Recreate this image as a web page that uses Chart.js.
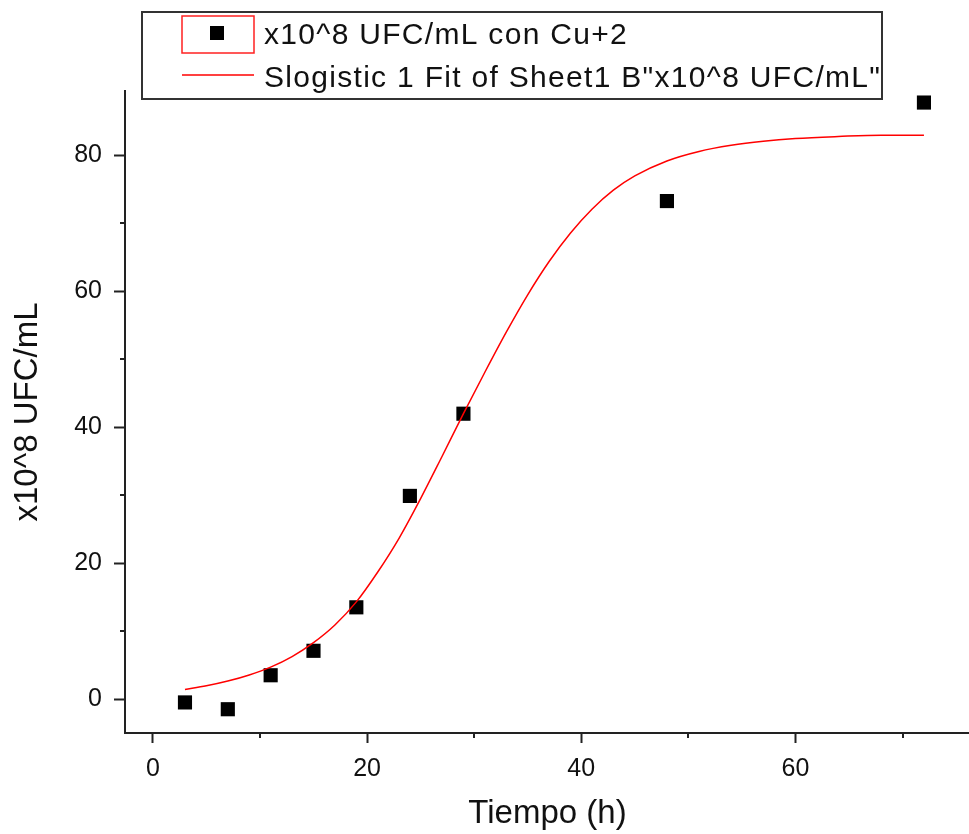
<!DOCTYPE html>
<html>
<head>
<meta charset="utf-8">
<script src="https://cdn.jsdelivr.net/npm/chart.js@4"></script>
<style>
  html, body { margin: 0; padding: 0; background: #fff; overflow: hidden; }
  #wrap { width: 969px; height: 834px; overflow: hidden; }
  #c { display: block; }
</style>
</head>
<body>
<div id="wrap"><canvas id="c" width="980" height="834"></canvas></div>
<script>
// Measured cell counts (x10^8 UFC/mL) against time (h)
const tiempo = [3, 7, 11, 15, 19, 24, 29, 48, 72];
const ufc = [-0.5, -1.5, 3.5, 7.1, 13.5, 29.9, 42.0, 73.3, 87.8];

// Sigmoidal (Slogistic1) fit curve, sampled along time
const fitTiempo = [3, 5, 7, 9, 11, 13, 15, 17, 19, 21, 23, 25, 27, 29, 31, 33, 35, 37, 39, 41, 43, 45, 48, 51, 54, 57, 60, 64, 68, 72];
const fitUfc = [1.4, 1.95, 2.65, 3.55, 4.7, 6.25, 8.3, 10.9, 14.3, 18.7, 23.7, 29.5, 35.7, 42.0, 48.1, 54.0, 59.5, 64.4, 68.6, 72.1, 74.9, 77.0, 79.2, 80.6, 81.5, 82.1, 82.5, 82.8, 83.0, 83.0];

// Axis ticks: major ticks are labelled, minor ticks are short marks only
const xMajorTicks = [0, 20, 40, 60];
const xMinorTicks = [10, 30, 50, 70];
const yMajorTicks = [0, 20, 40, 60, 80];
const yMinorTicks = [10, 30, 50, 70];

const serieLabel = 'x10^8 UFC/mL con Cu+2';
const fitLabel = 'Slogistic 1 Fit of Sheet1 B"x10^8 UFC/mL"';
const xTitle = 'Tiempo (h)';
const yTitle = 'x10^8 UFC/mL';

const FONT = "'Liberation Sans', Arial, sans-serif";
const AXIS_COLOR = '#222';
const TEXT_COLOR = '#111';

const scatterPoints = tiempo.map((t, i) => ({ x: t, y: ufc[i] }));
const fitPoints = fitTiempo.map((t, i) => ({ x: t, y: fitUfc[i] }));

function isMajor(list, v) { return list.indexOf(v) !== -1; }

// Axis boxes keep a fixed size with no extra label overhang padding
function fixBox(s, size) {
  if (s.isHorizontal()) s.height = size; else s.width = size;
  s.paddingLeft = 0;
  s.paddingRight = 0;
  s.paddingTop = 0;
  s.paddingBottom = 0;
}

// Short minor tick marks drawn outward from the axis lines
const minorTicks = {
  id: 'minorTicks',
  afterDraw(chart) {
    const ctx = chart.ctx;
    const xs = chart.scales.x, ys = chart.scales.y;
    const area = chart.chartArea;
    ctx.save();
    ctx.strokeStyle = AXIS_COLOR;
    ctx.lineWidth = 2;
    ctx.beginPath();
    xMinorTicks.forEach(v => {
      const px = Math.round(xs.getPixelForValue(v));
      ctx.moveTo(px, area.bottom);
      ctx.lineTo(px, area.bottom + 5);
    });
    yMinorTicks.forEach(v => {
      const py = Math.round(ys.getPixelForValue(v));
      ctx.moveTo(area.left, py);
      ctx.lineTo(area.left - 5, py);
    });
    ctx.stroke();
    ctx.restore();
  }
};

// Boxed legend in the upper part of the plot
const boxLegend = {
  id: 'boxLegend',
  afterDraw(chart) {
    const ctx = chart.ctx;
    ctx.save();
    ctx.fillStyle = '#fff';
    ctx.fillRect(142, 12, 740, 87);
    ctx.strokeStyle = '#333';
    ctx.lineWidth = 2;
    ctx.strokeRect(142, 12, 740, 87);

    // scatter entry: red frame with a black square
    ctx.strokeStyle = '#ff2020';
    ctx.lineWidth = 1.5;
    ctx.strokeRect(182, 16, 72, 37);
    ctx.fillStyle = '#000';
    ctx.fillRect(210, 26, 14, 14);

    // fit entry: red line sample
    ctx.strokeStyle = '#ff0000';
    ctx.lineWidth = 1.5;
    ctx.beginPath();
    ctx.moveTo(182, 75);
    ctx.lineTo(254, 75);
    ctx.stroke();

    ctx.fillStyle = TEXT_COLOR;
    ctx.font = '30px ' + FONT;
    if ('letterSpacing' in ctx) ctx.letterSpacing = '1.3px';
    ctx.textBaseline = 'alphabetic';
    ctx.textAlign = 'left';
    ctx.fillText(serieLabel, 264, 44);
    ctx.fillText(fitLabel, 264, 87);
    ctx.restore();
  }
};

new Chart(document.getElementById('c'), {
  data: {
    datasets: [
      {
        type: 'line',
        label: fitLabel,
        data: fitPoints,
        borderColor: '#ff0000',
        borderWidth: 1.5,
        pointRadius: 0,
        cubicInterpolationMode: 'monotone',
        fill: false,
        order: 0
      },
      {
        type: 'scatter',
        label: serieLabel,
        data: scatterPoints,
        pointStyle: 'rect',
        pointRadius: 10,
        pointBorderWidth: 0,
        backgroundColor: '#000',
        borderColor: '#000',
        order: 1
      }
    ]
  },
  options: {
    responsive: false,
    animation: false,
    events: [],
    layout: { padding: { top: 91, right: 0, left: 0, bottom: 0 } },
    plugins: {
      legend: { display: false },
      tooltip: { enabled: false }
    },
    scales: {
      x: {
        type: 'linear',
        min: -2.6,
        max: 76.3,
        afterBuildTicks(s) {
          s.ticks = xMajorTicks.concat(xMinorTicks).sort((a, b) => a - b).map(v => ({ value: v }));
        },
        afterFit(s) { fixBox(s, 101); },
        ticks: {
          autoSkip: false,
          maxRotation: 0,
          padding: 11,
          color: TEXT_COLOR,
          font: { family: FONT, size: 25 },
          callback: v => (isMajor(xMajorTicks, v) ? String(v) : '')
        },
        grid: {
          drawOnChartArea: false,
          drawTicks: true,
          tickLength: 10,
          tickWidth: 2,
          tickColor: c => (c.tick && isMajor(xMajorTicks, c.tick.value) ? AXIS_COLOR : 'rgba(0,0,0,0)')
        },
        border: { display: true, color: AXIS_COLOR, width: 2 },
        title: {
          display: true,
          text: xTitle,
          color: TEXT_COLOR,
          font: { family: FONT, size: 33 },
          padding: { top: 0, bottom: 0 }
        }
      },
      y: {
        type: 'linear',
        min: -5,
        max: 89.5,
        afterBuildTicks(s) {
          s.ticks = yMajorTicks.concat(yMinorTicks).sort((a, b) => a - b).map(v => ({ value: v }));
        },
        afterFit(s) { fixBox(s, 125); },
        ticks: {
          autoSkip: false,
          padding: 12,
          color: TEXT_COLOR,
          font: { family: FONT, size: 25 },
          callback: v => (isMajor(yMajorTicks, v) ? String(v) : '')
        },
        grid: {
          drawOnChartArea: false,
          drawTicks: true,
          tickLength: 11,
          tickWidth: 2,
          tickColor: c => (c.tick && isMajor(yMajorTicks, c.tick.value) ? AXIS_COLOR : 'rgba(0,0,0,0)')
        },
        border: { display: true, color: AXIS_COLOR, width: 2 },
        title: {
          display: true,
          text: yTitle,
          color: TEXT_COLOR,
          font: { family: FONT, size: 33 },
          padding: { top: 8, bottom: 0 }
        }
      }
    }
  },
  plugins: [minorTicks, boxLegend]
});
</script>
</body>
</html>
